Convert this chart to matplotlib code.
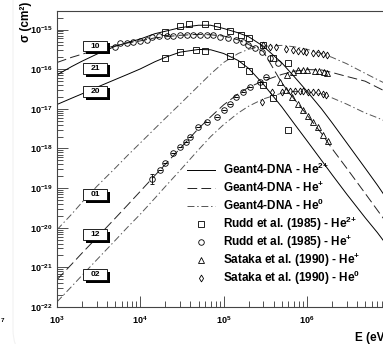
import numpy as np
import matplotlib
matplotlib.use("Agg")
import matplotlib.pyplot as plt
import matplotlib.ticker as mticker
from matplotlib.patches import Rectangle, FancyBboxPatch
from matplotlib.lines import Line2D

plt.rcParams['font.family'] = ['Liberation Sans', 'DejaVu Sans']
plt.rcParams['font.weight'] = 'bold'
plt.rcParams['mathtext.fontset'] = 'custom'
plt.rcParams['mathtext.rm'] = 'Liberation Sans:bold'
plt.rcParams['mathtext.bf'] = 'Liberation Sans:bold'
plt.rcParams['mathtext.default'] = 'bf'
plt.rcParams['lines.scale_dashes'] = False

# Geant4-DNA charge transfer cross sections (cm2) vs energy (eV)
energy = [1e3, 1.5e3, 2e3, 3e3, 5e3, 7e3, 1e4, 1.5e4, 2e4, 3e4, 5e4, 7e4,
          1e5, 1.5e5, 2e5, 3e5, 5e5, 7e5, 1e6, 1.5e6, 2e6, 3e6, 5e6, 7e6,
          1e7, 2e7, 5e7, 1e8]
sigma_21 = [7.2e-17, 1.17e-16, 1.6e-16, 2.4e-16, 3.8e-16, 4.7e-16, 5.8e-16, 7.9e-16,
            9.1e-16, 1.12e-15, 1.29e-15, 1.29e-15, 1.07e-15, 8.3e-16, 6.6e-16, 3.8e-16,
            1.45e-16, 6.6e-17, 2.8e-17, 1.0e-17, 4.5e-18, 1.4e-18, 3.2e-19, 1.2e-19,
            4e-20, 5e-21, 3.2e-22, 4e-23]
sigma_20 = [1.29e-17, 1.86e-17, 2.4e-17, 3.5e-17, 5.5e-17, 7.4e-17, 1.02e-16, 1.55e-16,
            2.0e-16, 2.7e-16, 3.16e-16, 3.1e-16, 2.5e-16, 1.66e-16, 1.05e-16, 4.2e-17,
            1.12e-17, 4.3e-18, 1.58e-18, 5e-19, 2.2e-19, 7.1e-20, 1.8e-20, 7.6e-21,
            2.8e-21, 4.5e-22, 4e-23, 6.3e-24]
sigma_10 = [1.48e-16, 2.0e-16, 2.4e-16, 3.1e-16, 3.9e-16, 4.6e-16, 5.2e-16, 6.2e-16,
            6.6e-16, 7.2e-16, 7.6e-16, 7.4e-16, 6.9e-16, 5.5e-16, 4.2e-16, 2.8e-16,
            4.5e-17, 1.8e-17, 7.1e-18, 2.4e-18, 1.0e-18, 3.2e-19, 7.4e-20, 2.8e-20,
            1e-20, 1.26e-21, 8e-23, 1e-23]
sigma_12 = [4.9e-22, 1.2e-21, 2.3e-21, 5.6e-21, 1.74e-20, 3.7e-20, 8.3e-20, 2.1e-19,
            4e-19, 1e-18, 3.2e-18, 6.3e-18, 1.26e-17, 2.4e-17, 3.5e-17, 5.1e-17,
            7.4e-17, 8.9e-17, 9.8e-17, 9.6e-17, 8.3e-17, 6.6e-17, 5.0e-17, 3.5e-17,
            2.4e-17, 1.2e-17, 5.0e-18, 2.5e-18]
sigma_01 = [8.9e-21, 2.2e-20, 4.4e-20, 1.1e-19, 3.2e-19, 6.6e-19, 1.38e-18, 3.2e-18,
            5.8e-18, 1.32e-17, 3.8e-17, 7.6e-17, 1.48e-16, 2.5e-16, 3.2e-16, 3.8e-16,
            4.0e-16, 3.7e-16, 3.2e-16, 2.5e-16, 2.0e-16, 1.38e-16, 7.9e-17, 5.5e-17,
            3.8e-17, 1.8e-17, 6.3e-18, 2.8e-18]
sigma_02 = [1.35e-22, 3.3e-22, 6.3e-22, 1.55e-21, 4.8e-21, 1.02e-20, 2.2e-20, 5.6e-20,
            1.1e-19, 2.8e-19, 9.3e-19, 2e-18, 4e-18, 7.9e-18, 1.17e-17, 1.78e-17,
            2.5e-17, 2.75e-17, 2.7e-17, 2.4e-17, 1.9e-17, 1.32e-17, 7.9e-18, 6.0e-18,
            4.3e-18, 2.2e-18, 1.0e-18, 5.0e-19]

# Rudd et al. (1985), He2+
rudd21_e = [2.0e4, 3.0e4, 3.8e4, 6.0e4, 8.3e4, 1.2e5, 1.6e5, 2.0e5, 3.0e5, 3.9e5, 5.9e5]
rudd21_s = [8.9e-16, 1.2e-15, 1.35e-15, 1.35e-15, 1.2e-15, 9.3e-16, 7.4e-16, 6.3e-16,
            4.2e-16, 1.95e-16, 1.48e-16]
rudd20_e = [2.0e4, 3.0e4, 4.6e4, 6.0e4, 1.2e5, 1.6e5, 2.0e5, 3.0e5, 3.9e5, 5.9e5]
rudd20_s = [1.95e-16, 2.75e-16, 3.1e-16, 2.95e-16, 2.1e-16, 1.38e-16, 9.1e-17, 4.1e-17,
            1.9e-17, 3.0e-18]
# Rudd et al. (1985), He+
rudd10_e = [5.0e3, 5.7e3, 6.9e3, 8.2e3, 1e4, 1.2e4, 1.4e4, 1.7e4, 2.1e4, 2.5e4, 3.0e4,
            3.6e4, 4.3e4, 5.2e4, 6.3e4, 7.4e4, 9.0e4, 1.13e5, 1.4e5, 1.7e5, 1.95e5,
            2.4e5, 2.9e5, 3.6e5, 4.5e5]
rudd10_s = [3.7e-16, 4.7e-16, 4.7e-16, 5.0e-16, 5.2e-16, 5.6e-16, 6.6e-16, 7.1e-16,
            7.1e-16, 7.1e-16, 7.4e-16, 7.4e-16, 7.4e-16, 7.4e-16, 7.4e-16, 7.4e-16,
            6.6e-16, 6.3e-16, 5.6e-16, 5.0e-16, 4.2e-16, 3.5e-16, 2.75e-16, 1.95e-16,
            1.48e-16]
rudd12_e = [1.38e4, 1.74e4, 2.0e4, 2.5e4, 3.0e4, 3.5e4, 4.0e4, 4.9e4, 6.3e4, 8.3e4,
            1.0e5, 1.2e5, 1.4e5, 1.7e5, 2.1e5, 2.7e5, 3.2e5]
rudd12_s = [1.74e-19, 2.9e-19, 4.4e-19, 7.8e-19, 1.12e-18, 1.48e-18, 2.0e-18, 3.4e-18,
            4.8e-18, 6.3e-18, 9.5e-18, 1.29e-17, 2.0e-17, 2.7e-17, 3.6e-17, 4.9e-17,
            6.2e-17]
rudd12_err = [0.5e-19] + [0] * 16
# Sataka et al. (1990), He+
sat12_e = [5.8e5, 6.8e5, 7.8e5, 9.0e5, 1.0e6, 1.25e6, 1.4e6, 1.6e6, 1.75e6]
sat12_s = [7.2e-17, 8.5e-17, 9.5e-17, 9.8e-17, 9.8e-17, 9.1e-17, 8.9e-17, 8.5e-17, 8.1e-17]
sat10_e = [4.8e5, 5.6e5, 6.6e5, 7.8e5, 8.9e5, 1.02e6, 1.17e6, 1.35e6, 1.55e6, 1.78e6]
sat10_s = [4.9e-17, 3.0e-17, 2.0e-17, 1.35e-17, 9.5e-18, 6.8e-18, 4.8e-18, 3.4e-18,
           2.2e-18, 1.58e-18]
# Sataka et al. (1990), He0
sat01_e = [3.0e5, 3.6e5, 4.3e5, 5.6e5, 6.8e5, 7.8e5, 8.9e5, 9.8e5, 1.17e6, 1.35e6,
           1.55e6, 1.74e6]
sat01_s = [4.0e-16, 3.7e-16, 3.7e-16, 3.3e-16, 3.1e-16, 2.95e-16, 2.95e-16, 2.75e-16,
           2.6e-16, 2.6e-16, 2.45e-16, 2.35e-16]
sat02_e = [2.9e5, 3.8e5, 5.0e5, 6.3e5, 7.2e5, 8.3e5, 8.9e5, 1.02e6, 1.17e6, 1.35e6,
           1.55e6, 1.7e6]
sat02_s = [1.5e-17, 2.6e-17, 2.7e-17, 2.9e-17, 2.9e-17, 2.9e-17, 2.9e-17, 2.7e-17,
           2.7e-17, 2.6e-17, 2.4e-17, 2.3e-17]

legend_labels = ['Geant4-DNA - He$^{2}$$^{+}$', 'Geant4-DNA - He$^{+}$',
                 'Geant4-DNA - He$^{0}$', 'Rudd et al. (1985) - He$^{2}$$^{+}$',
                 'Rudd et al. (1985) - He$^{+}$', 'Sataka et al. (1990) - He$^{+}$',
                 'Sataka et al. (1990) - He$^{0}$']

W, H = 383, 344
fig = plt.figure(figsize=(W / 100, H / 100), dpi=100)
ax = fig.add_axes([57 / W, 1 - 307 / H, 5 * 83.3 / W, 296 / H])

lw = 0.7
solid = dict(color='black', lw=lw, ls='-')
dashed = dict(color='#222222', lw=lw, dashes=(7, 3))
dashdot = dict(color='#555555', lw=lw, dashes=(5, 2, 1, 2))

ax.plot(energy, sigma_21, **solid)
ax.plot(energy, sigma_20, **solid)
ax.plot(energy, sigma_10, **dashed)
ax.plot(energy, sigma_12, **dashed)
ax.plot(energy, sigma_01, **dashdot)
ax.plot(energy, sigma_02, **dashdot)

mk = dict(ls='none', mfc='none', mec='black', mew=0.6)
sq = dict(marker='s', ms=4.2, **mk)
ci = dict(marker='o', ms=4.0, **mk)
tr = dict(marker='^', ms=4.2, **mk)
di = dict(marker='d', ms=3.5, **mk)
ax.plot(rudd21_e, rudd21_s, **sq)
ax.plot(rudd20_e, rudd20_s, **sq)
ax.plot(rudd10_e, rudd10_s, **ci)
ax.errorbar(rudd12_e, rudd12_s, yerr=rudd12_err, ecolor='black',
            elinewidth=0.6, capsize=1.5, capthick=0.6, **ci)
ax.plot(sat12_e, sat12_s, **tr)
ax.plot(sat10_e, sat10_s, **tr)
ax.plot(sat01_e, sat01_s, **di)
ax.plot(sat02_e, sat02_s, **di)

ax.set_xscale('log')
ax.set_yscale('log')
ax.set_xlim(1e3, 1e8)
ax.set_ylim(1e-22, 10 ** -14.53)
ax.xaxis.set_major_locator(mticker.LogLocator(base=10, numticks=20))
ax.xaxis.set_minor_locator(mticker.LogLocator(base=10, subs=np.arange(2, 10), numticks=20))
ax.yaxis.set_major_locator(mticker.LogLocator(base=10, numticks=20))
ax.yaxis.set_minor_locator(mticker.LogLocator(base=10, subs=np.arange(2, 10), numticks=20))
ax.yaxis.set_minor_formatter(mticker.NullFormatter())
ax.xaxis.set_minor_formatter(mticker.NullFormatter())
sci = mticker.LogFormatterSciNotation()
ax.xaxis.set_major_formatter(mticker.FuncFormatter(
    lambda v, p: sci(v, p) if 5e2 < v < 2e6 else ''))
ax.yaxis.set_major_formatter(mticker.FuncFormatter(
    lambda v, p: sci(v, p) if 5e-23 < v < 2e-15 else ''))
ax.tick_params(which='both', direction='in', top=False, right=False, labelsize=6.5,
               width=0.6, color='#333333')
ax.tick_params(axis='y', pad=3)
ax.tick_params(axis='x', pad=5)
ax.tick_params(which='major', length=8)
ax.tick_params(which='minor', length=4)
for s in ax.spines.values():
    s.set_color('#444444')
    s.set_linewidth(0.8)

# legend, one row every 18 px
legend_styles = [solid, dashed, dashdot, sq, ci, tr, di]
row_y = [170, 188, 206, 224, 242, 260, 278]
for st, lab, y in zip(legend_styles, legend_labels, row_y):
    yf = 1 - y / H
    if 'marker' in st:
        fig.add_artist(Line2D([201 / W], [yf], transform=fig.transFigure, **st))
    else:
        fig.add_artist(Line2D([187 / W, 215 / W], [yf, yf], transform=fig.transFigure, **st))
    fig.text(223 / W, 1 - (y + 4) / H, lab, ha='left', va='baseline', fontsize=8.5,
             fontweight='bold')

# reaction labels with shadow boxes
def tag(x0, y0, x1, y1, text):
    fig.add_artist(Rectangle(((x0 + 2.5) / W, 1 - (y1 + 2.5) / H), (x1 - x0) / W,
                             (y1 - y0) / H, transform=fig.transFigure, facecolor='black',
                             edgecolor='none'))
    fig.add_artist(Rectangle((x0 / W, 1 - y1 / H), (x1 - x0) / W, (y1 - y0) / H,
                             transform=fig.transFigure, facecolor='white',
                             edgecolor='black', lw=0.6))
    fig.text((x0 + x1) / 2 / W, 1 - (y0 + y1) / 2 / H, text, ha='center', va='center',
             fontsize=6, fontweight='bold')

tag(83, 41, 107, 51, '10')
tag(83, 63, 107, 74, '21')
tag(83, 86, 107, 97, '20')
tag(83, 189, 107, 200, '01')
tag(83, 229, 107, 240, '12')
tag(83, 269, 107, 280, '02')

fig.text(26 / W, 1 - 22 / H, 'σ (cm²)', rotation=90, ha='center', va='center',
         fontsize=8.5, fontweight='bold')
fig.text(355 / W, 1 - 338 / H, 'E (eV)', ha='left', va='center', fontsize=8.5,
         fontweight='bold')
fig.text(1 / W, 1 - 320 / H, '7', ha='left', va='center', fontsize=4.5)

fig.add_artist(FancyBboxPatch((13 / W, -20 / H), 2.0, 1.2,
                              boxstyle='round,pad=0,rounding_size=0.1',
                              transform=fig.transFigure, facecolor='none',
                              edgecolor='#f2f2f2', lw=0.8, zorder=-5))

fig.savefig('out.png', dpi=100)
